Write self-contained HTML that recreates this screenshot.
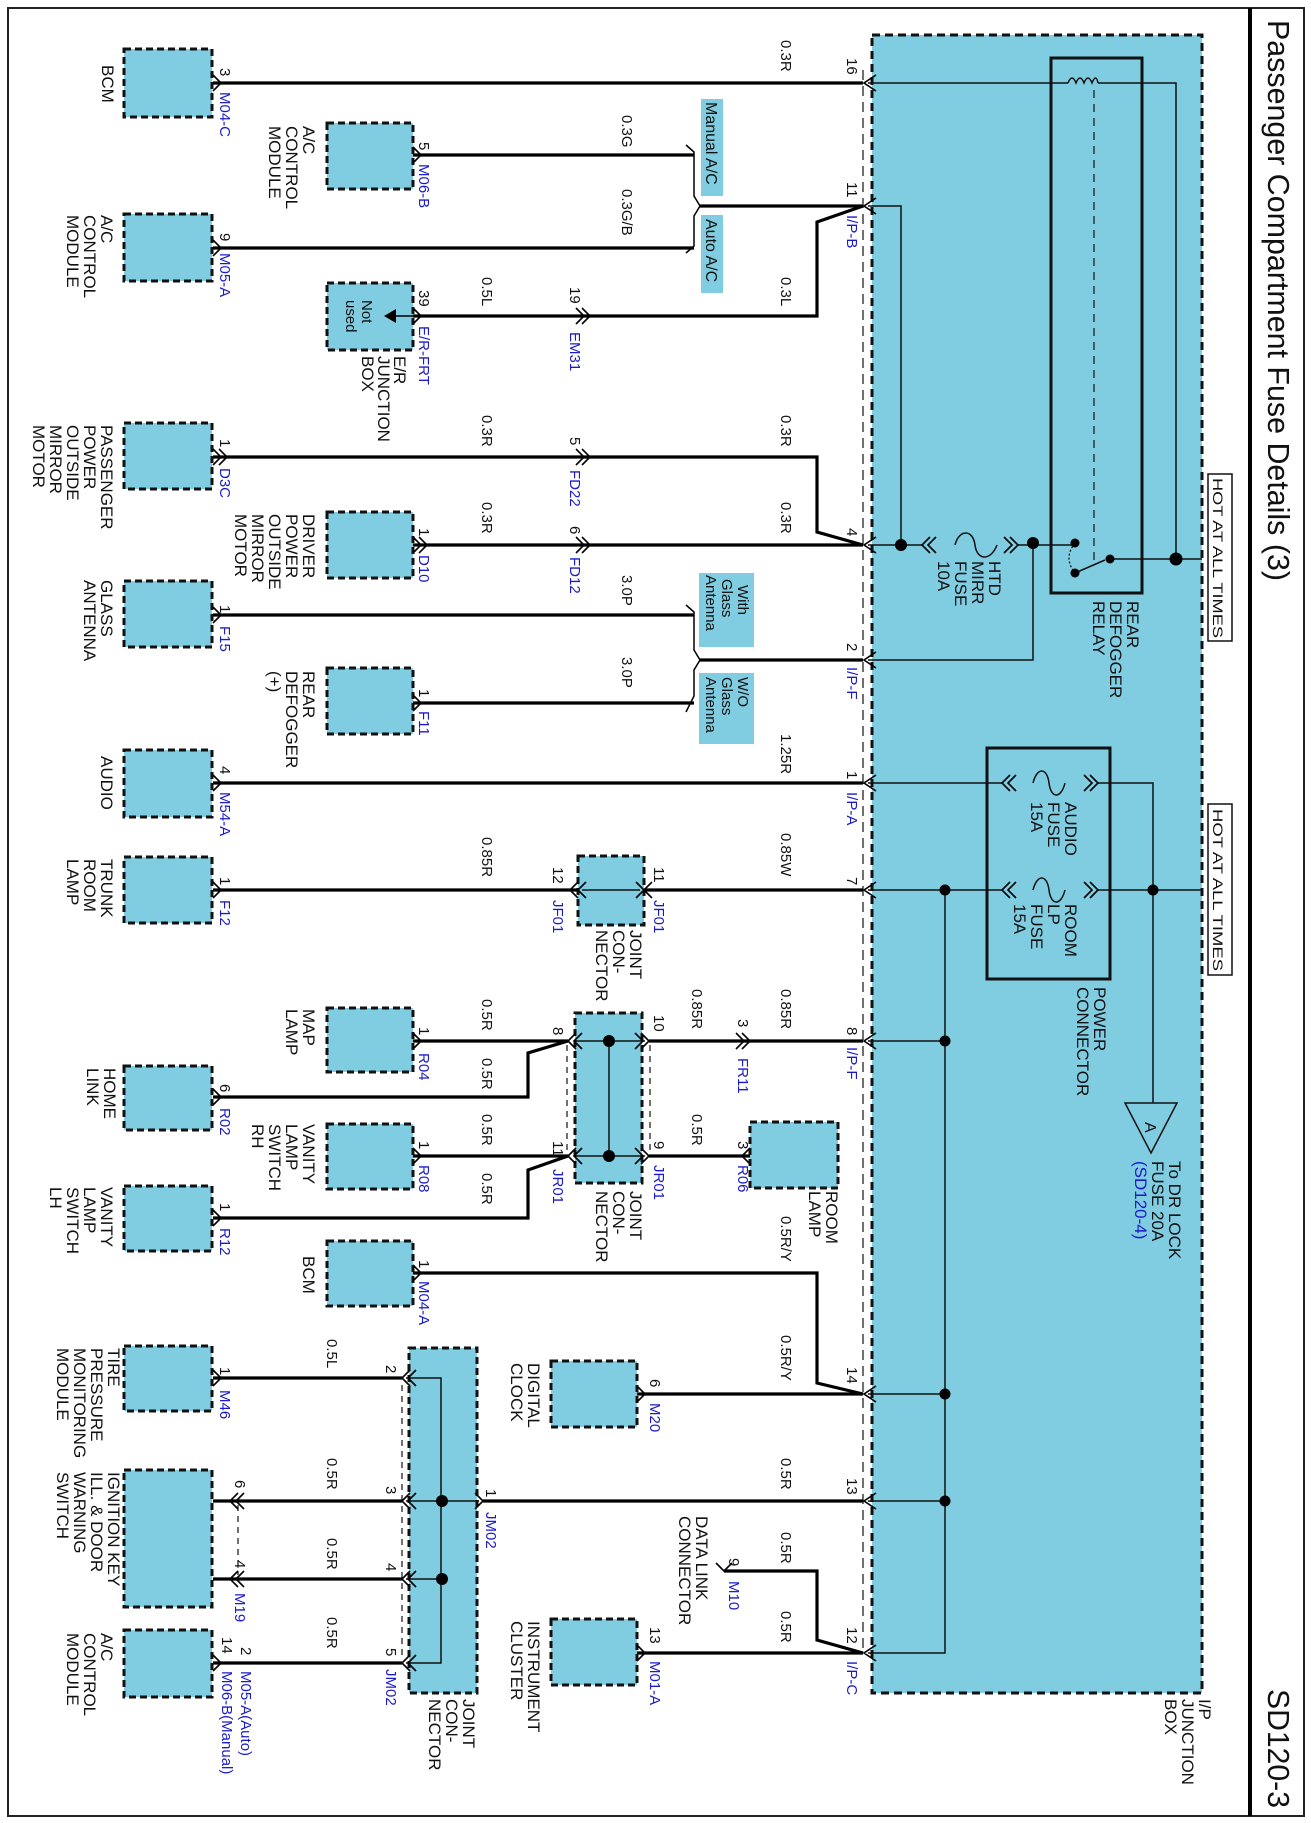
<!DOCTYPE html>
<html><head><meta charset="utf-8"><style>
html,body{margin:0;padding:0;background:#fff}
svg{display:block}
text{font-family:"Liberation Sans",Arial,sans-serif;fill:#111}
.l text{font-size:17px}
.w text{font-size:15px}
.b text{font-size:15px;fill:#1a1acc}
</style></head><body>
<svg width="1311" height="1823" viewBox="0 0 1311 1823" xmlns="http://www.w3.org/2000/svg">
<rect x="0" y="0" width="1311" height="1823" fill="#fff"/>
<rect x="8" y="8" width="1296" height="1808" fill="none" stroke="#222" stroke-width="2"/>
<line x1="1250" y1="8" x2="1250" y2="1816" stroke="#000" stroke-width="4"/>

<rect x="872" y="35" width="330" height="1658" fill="#80cde1" stroke="#111" stroke-width="3" stroke-dasharray="8,5"/>
<line x1="863" y1="70" x2="863" y2="1650" stroke="#222" stroke-width="1.3" stroke-dasharray="10,6"/>

<g fill="#80cde1" stroke="#111" stroke-width="3" stroke-dasharray="7,4">
<rect x="124" y="49" width="88" height="68"/>
<rect x="327" y="123" width="86" height="66"/>
<rect x="124" y="214" width="88" height="67"/>
<rect x="327" y="283" width="86" height="67"/>
<rect x="124" y="423" width="88" height="66"/>
<rect x="327" y="512" width="86" height="66"/>
<rect x="124" y="581" width="88" height="66"/>
<rect x="327" y="668" width="86" height="66"/>
<rect x="124" y="750" width="88" height="67"/>
<rect x="124" y="857" width="88" height="66"/>
<rect x="578" y="856" width="66" height="69"/>
<rect x="327" y="1008" width="86" height="64"/>
<rect x="124" y="1066" width="88" height="64"/>
<rect x="575" y="1013" width="67" height="170"/>
<rect x="327" y="1124" width="86" height="65"/>
<rect x="750" y="1122" width="88" height="66"/>
<rect x="124" y="1186" width="88" height="65"/>
<rect x="327" y="1241" width="86" height="65"/>
<rect x="124" y="1346" width="88" height="65"/>
<rect x="409" y="1348" width="68" height="345"/>
<rect x="551" y="1361" width="86" height="66"/>
<rect x="124" y="1470" width="88" height="137"/>
<rect x="551" y="1619" width="86" height="66"/>
<rect x="124" y="1630" width="88" height="67"/>
</g>

<g fill="#80cde1">
<rect x="701" y="99" width="22" height="97"/>
<rect x="701" y="215" width="22" height="78"/>
<rect x="699" y="573" width="55" height="74"/>
<rect x="699" y="673" width="55" height="71"/>
</g>

<rect x="1051" y="58" width="91" height="535" fill="none" stroke="#111" stroke-width="3"/>
<rect x="987" y="748" width="123" height="231" fill="none" stroke="#111" stroke-width="3"/>
<rect x="1208" y="474" width="24" height="167" fill="#fff" stroke="#111" stroke-width="1.5"/>
<rect x="1208" y="804" width="24" height="171" fill="#fff" stroke="#111" stroke-width="1.5"/>

<g fill="none" stroke="#000" stroke-width="3.2" stroke-linejoin="miter">
<path d="M213,83H863"/>
<path d="M413,155H694"/>
<path d="M700,206H863"/>
<path d="M213,248H694"/>
<path d="M413,316H817V222L863,206"/>
<path d="M213,457H817V532L863,545"/>
<path d="M413,545H863"/>
<path d="M213,615H694"/>
<path d="M700,660H863"/>
<path d="M413,703H694"/>
<path d="M213,783H863"/>
<path d="M213,890H578M644,890H863"/>
<path d="M413,1041H568M649,1041H863"/>
<path d="M213,1097H528V1053L568,1041"/>
<path d="M413,1156H568M649,1156H750"/>
<path d="M213,1218H528V1170L568,1156"/>
<path d="M413,1273H817V1383L863,1394"/>
<path d="M637,1394H863"/>
<path d="M213,1378H402"/>
<path d="M213,1501H402M483,1501H863"/>
<path d="M213,1579H402"/>
<path d="M213,1663H402"/>
<path d="M724,1571H817V1640L863,1653"/>
<path d="M637,1653H863"/>
</g>

<g fill="none" stroke="#000" stroke-width="1.5">
<path d="M686,145L694,152V196L700,206L694,216V246L686,253"/>
<path d="M686,605L694,612V650L700,660L694,670V696L686,712"/>
</g>

<g fill="none" stroke="#111" stroke-width="1.5">
<path d="M868,83H1068"/>
<path d="M1098,83H1176V559"/>
<path d="M868,206H901V545"/>
<path d="M868,545H922"/>
<path d="M1018,545H1075"/>
<path d="M1033,545V660H868"/>
<path d="M1110,559H1202"/>
<path d="M1075,573L1105,560"/>
<path d="M868,783H1002M1098,783H1153V1103"/>
<path d="M868,890H1002M1098,890H1202"/>
<path d="M945,890V1653H868"/>
<path d="M868,1041H945M868,1394H945M868,1501H945"/>
<path d="M582,890H640"/>
<path d="M574,1041H645M574,1156H645M609,1041V1156"/>
<path d="M406,1378H441V1663H406M406,1501H479M406,1579H441"/>
<path d="M1125,1103H1177L1151,1153Z"/>
<path d="M1068,83q4,-10 8,0q4,-10 8,0q4,-10 8,0q4,-10 6,0"/>
<path d="M955,545c4,-16 18,-16 20,0s16,16 22,0"/>
<path d="M1033,783c4,-16 14,-16 16,0s12,16 16,0"/>
<path d="M1033,890c4,-16 14,-16 16,0s12,16 16,0"/>
</g>
<line x1="1094" y1="90" x2="1094" y2="560" stroke="#111" stroke-width="1.2" stroke-dasharray="8,6"/>
<path d="M1075,543q-12,15 0,30" fill="none" stroke="#111" stroke-width="1.3" stroke-dasharray="2,2"/>
<g stroke="#111" stroke-width="1.2" stroke-dasharray="6,5" fill="none">
<path d="M567,1045V1152M650,1045V1152M402,1385V1658M238,1505V1575"/>
</g>

<g fill="none" stroke="#000" stroke-width="1.6">
<path d="M876,75L864,83L876,91M876,198L864,206L876,214M876,537L864,545L876,553M876,652L864,660L876,668M876,775L864,783L876,791M876,882L864,890L876,898M876,1033L864,1041L876,1049M876,1386L864,1394L876,1402M876,1493L864,1501L876,1509M876,1645L864,1653L876,1661"/>
<path d="M213,75L221,83L213,91M413,147L421,155L413,163M213,240L221,248L213,256M413,308L421,316L413,324M413,695L421,703L413,711M213,607L221,615L213,623M213,775L221,783L213,791M213,882L221,890L213,898M413,1033L421,1041L413,1049M213,1089L221,1097L213,1105M413,1148L421,1156L413,1164M213,1210L221,1218L213,1226M413,1265L421,1273L413,1281M213,1370L221,1378L213,1386M637,1386L645,1394L637,1402M637,1645L645,1653L637,1661M213,1655L221,1663L213,1671M750,1148L742,1156L750,1164M716,1563L724,1571L732,1563"/>
<path d="M576,308L584,316L576,324M582,308L590,316L582,324M576,449L584,457L576,465M582,449L590,457L582,465M576,537L584,545L576,553M582,537L590,545L582,553M736,1033L744,1041L736,1049M742,1033L750,1041L742,1049"/>
<path d="M213,449L221,457L213,465M219,449L227,457L219,465M413,537L421,545L413,553M419,537L427,545L419,553"/>
<path d="M238,1493L230,1501L238,1509M244,1493L236,1501L244,1509M238,1571L230,1579L238,1587M244,1571L236,1579L244,1587"/>
<path d="M586,882L578,890L586,898M636,882L644,890L636,898M578,882L570,890L578,898M652,882L644,890L652,898"/>
<path d="M576,1033L568,1041L576,1049M582,1033L574,1041L582,1049M641,1033L649,1041L641,1049M635,1033L643,1041L635,1049M576,1148L568,1156L576,1164M582,1148L574,1156L582,1164M641,1148L649,1156L641,1164M635,1148L643,1156L635,1164"/>
<path d="M410,1370L402,1378L410,1386M416,1370L408,1378L416,1386M410,1493L402,1501L410,1509M416,1493L408,1501L416,1509M410,1571L402,1579L410,1587M416,1571L408,1579L416,1587M410,1655L402,1663L410,1671M416,1655L408,1663L416,1671M475,1493L483,1501L475,1509"/>
<path d="M930,537L922,545L930,553M936,537L928,545L936,553M1004,537L1012,545L1004,553M1010,537L1018,545L1010,553"/>
<path d="M1010,775L1002,783L1010,791M1016,775L1008,783L1016,791M1084,775L1092,783L1084,791M1090,775L1098,783L1090,791"/>
<path d="M1010,882L1002,890L1010,898M1016,882L1008,890L1016,898M1084,882L1092,890L1084,898M1090,882L1098,890L1090,898"/>
</g>
<path d="M384,316L396,309V323Z" fill="#000"/>
<line x1="396" y1="316" x2="413" y2="316" stroke="#000" stroke-width="1.5"/>

<g fill="#000">
<circle cx="901" cy="545" r="6"/><circle cx="1033" cy="543" r="6"/>
<circle cx="1075" cy="543" r="4.5"/><circle cx="1075" cy="573" r="4.5"/><circle cx="1110" cy="559" r="4.5"/>
<circle cx="1176" cy="559" r="6.5"/>
<circle cx="945" cy="890" r="5.5"/><circle cx="1153" cy="890" r="5.5"/>
<circle cx="945" cy="1041" r="5.5"/><circle cx="945" cy="1394" r="5.5"/><circle cx="945" cy="1501" r="5.5"/>
<circle cx="609" cy="1041" r="6"/><circle cx="609" cy="1156" r="6"/>
<circle cx="442" cy="1501" r="6"/><circle cx="442" cy="1579" r="6"/>
</g>

<g transform="rotate(90)">
<text x="20" y="-1268" style="font-size:31px" textLength="561" lengthAdjust="spacingAndGlyphs">Passenger Compartment Fuse Details (3)</text>
<text x="1689" y="-1268" style="font-size:31px" textLength="119" lengthAdjust="spacingAndGlyphs">SD120-3</text>

<g class="l">
<text x="65" y="-102">BCM</text>
<text x="126" y="-303"><tspan>A/C</tspan><tspan x="126" dy="17">CONTROL</tspan><tspan x="126" dy="17">MODULE</tspan></text>
<text x="215" y="-101"><tspan>A/C</tspan><tspan x="215" dy="17">CONTROL</tspan><tspan x="215" dy="17">MODULE</tspan></text>
<text x="356" y="-394"><tspan>E/R</tspan><tspan x="356" dy="16">JUNCTION</tspan><tspan x="356" dy="16">BOX</tspan></text>
<text x="425" y="-101"><tspan>PASSENGER</tspan><tspan x="425" dy="17">POWER</tspan><tspan x="425" dy="17">OUTSIDE</tspan><tspan x="425" dy="17">MIRROR</tspan><tspan x="425" dy="17">MOTOR</tspan></text>
<text x="514" y="-303"><tspan>DRIVER</tspan><tspan x="514" dy="17">POWER</tspan><tspan x="514" dy="17">OUTSIDE</tspan><tspan x="514" dy="17">MIRROR</tspan><tspan x="514" dy="17">MOTOR</tspan></text>
<text x="580" y="-101"><tspan>GLASS</tspan><tspan x="580" dy="17">ANTENNA</tspan></text>
<text x="671" y="-303"><tspan>REAR</tspan><tspan x="671" dy="17">DEFOGGER</tspan><tspan x="671" dy="17">(+)</tspan></text>
<text x="756" y="-101">AUDIO</text>
<text x="859" y="-101"><tspan>TRUNK</tspan><tspan x="859" dy="17">ROOM</tspan><tspan x="859" dy="17">LAMP</tspan></text>
<text x="930" y="-630"><tspan>JOINT</tspan><tspan x="930" dy="17">CON-</tspan><tspan x="930" dy="17">NECTOR</tspan></text>
<text x="1009" y="-303"><tspan>MAP</tspan><tspan x="1009" dy="17">LAMP</tspan></text>
<text x="1068" y="-104"><tspan>HOME</tspan><tspan x="1068" dy="17">LINK</tspan></text>
<text x="1124" y="-303"><tspan>VANITY</tspan><tspan x="1124" dy="17">LAMP</tspan><tspan x="1124" dy="17">SWITCH</tspan><tspan x="1124" dy="17">RH</tspan></text>
<text x="1191" y="-630"><tspan>JOINT</tspan><tspan x="1191" dy="17">CON-</tspan><tspan x="1191" dy="17">NECTOR</tspan></text>
<text x="1191" y="-826"><tspan>ROOM</tspan><tspan x="1191" dy="17">LAMP</tspan></text>
<text x="1187" y="-101"><tspan>VANITY</tspan><tspan x="1187" dy="17">LAMP</tspan><tspan x="1187" dy="17">SWITCH</tspan><tspan x="1187" dy="17">LH</tspan></text>
<text x="1256" y="-303">BCM</text>
<text x="1348" y="-108"><tspan>TIRE</tspan><tspan x="1348" dy="17">PRESSURE</tspan><tspan x="1348" dy="17">MONITORING</tspan><tspan x="1348" dy="17">MODULE</tspan></text>
<text x="1363" y="-528"><tspan>DIGITAL</tspan><tspan x="1363" dy="17">CLOCK</tspan></text>
<text x="1472" y="-108"><tspan>IGNITION KEY</tspan><tspan x="1472" dy="17">ILL. &amp; DOOR</tspan><tspan x="1472" dy="17">WARNING</tspan><tspan x="1472" dy="17">SWITCH</tspan></text>
<text x="1516" y="-696"><tspan>DATA LINK</tspan><tspan x="1516" dy="17">CONNECTOR</tspan></text>
<text x="1621" y="-528"><tspan>INSTRUMENT</tspan><tspan x="1621" dy="17">CLUSTER</tspan></text>
<text x="1633" y="-101"><tspan>A/C</tspan><tspan x="1633" dy="17">CONTROL</tspan><tspan x="1633" dy="17">MODULE</tspan></text>
<text x="1699" y="-463"><tspan>JOINT</tspan><tspan x="1699" dy="17">CON-</tspan><tspan x="1699" dy="17">NECTOR</tspan></text>
<text x="1699" y="-1199"><tspan>I/P</tspan><tspan x="1699" dy="17">JUNCTION</tspan><tspan x="1699" dy="17">BOX</tspan></text>
<text x="561" y="-989"><tspan>HTD</tspan><tspan x="561" dy="17">MIRR</tspan><tspan x="561" dy="17">FUSE</tspan><tspan x="561" dy="17">10A</tspan></text>
<text x="601" y="-1127"><tspan>REAR</tspan><tspan x="601" dy="17">DEFOGGER</tspan><tspan x="601" dy="17">RELAY</tspan></text>
<text x="802" y="-1065"><tspan>AUDIO</tspan><tspan x="802" dy="17">FUSE</tspan><tspan x="802" dy="17">15A</tspan></text>
<text x="904" y="-1065"><tspan>ROOM</tspan><tspan x="904" dy="17">LP</tspan><tspan x="904" dy="17">FUSE</tspan><tspan x="904" dy="17">15A</tspan></text>
<text x="987" y="-1094"><tspan>POWER</tspan><tspan x="987" dy="17">CONNECTOR</tspan></text>
<text x="1161" y="-1169"><tspan>To DR LOCK</tspan><tspan x="1161" dy="17">FUSE 20A</tspan><tspan x="1161" dy="17" style="fill:#1a1acc">(SD120-4)</tspan></text>
<text x="300" y="-362" style="font-size:15px"><tspan>Not</tspan><tspan x="300" dy="16">used</tspan></text>
<text x="102" y="-706" style="font-size:16px">Manual A/C</text>
<text x="219" y="-706" style="font-size:16px">Auto A/C</text>
<text x="585" y="-738" style="font-size:15px"><tspan>With</tspan><tspan x="579" dy="16">Glass</tspan><tspan x="575" dy="16">Antenna</tspan></text>
<text x="677" y="-738" style="font-size:15px"><tspan>W/O</tspan><tspan x="677" dy="16">Glass</tspan><tspan x="677" dy="16">Antenna</tspan></text>
<text x="478" y="-1213" style="font-size:14px" textLength="160" lengthAdjust="spacingAndGlyphs">HOT AT ALL TIMES</text>
<text x="809" y="-1213" style="font-size:14px" textLength="162" lengthAdjust="spacingAndGlyphs">HOT AT ALL TIMES</text>
<text x="1122" y="-1145" style="font-size:16px">A</text>
</g>

<g class="w">
<text x="40" y="-781">0.3R</text><text x="58" y="-847">16</text><text x="68" y="-220">3</text>
<text x="115" y="-622">0.3G</text><text x="142" y="-419">5</text><text x="182" y="-847">11</text>
<text x="189" y="-622">0.3G/B</text><text x="233" y="-220">9</text>
<text x="277" y="-482">0.5L</text><text x="287" y="-570">19</text><text x="277" y="-781">0.3L</text><text x="290" y="-419">39</text>
<text x="415" y="-482">0.3R</text><text x="437" y="-570">5</text><text x="415" y="-781">0.3R</text><text x="439" y="-220">1</text>
<text x="502" y="-482">0.3R</text><text x="526" y="-570">6</text><text x="502" y="-781">0.3R</text><text x="528" y="-847">4</text><text x="528" y="-419">1</text>
<text x="575" y="-622">3.0P</text><text x="605" y="-220">1</text><text x="643" y="-847">2</text>
<text x="657" y="-622">3.0P</text><text x="689" y="-419">1</text>
<text x="734" y="-781">1.25R</text><text x="766" y="-220">4</text><text x="771" y="-847">1</text>
<text x="837" y="-482">0.85R</text><text x="867" y="-553">12</text><text x="867" y="-654">11</text><text x="833" y="-781">0.85W</text><text x="877" y="-847">7</text><text x="877" y="-220">1</text>
<text x="999" y="-482">0.5R</text><text x="1027" y="-419">1</text><text x="1027" y="-553">8</text><text x="1015" y="-654">10</text>
<text x="989" y="-692">0.85R</text><text x="1019" y="-738">3</text><text x="989" y="-781">0.85R</text><text x="1027" y="-847">8</text>
<text x="1058" y="-482">0.5R</text><text x="1084" y="-220">6</text>
<text x="1114" y="-482">0.5R</text><text x="1141" y="-419">1</text><text x="1141" y="-553">11</text><text x="1141" y="-654">9</text>
<text x="1114" y="-692">0.5R</text><text x="1141" y="-738">3</text>
<text x="1173" y="-482">0.5R</text><text x="1203" y="-220">1</text>
<text x="1216" y="-781">0.5R/Y</text><text x="1260" y="-419">1</text>
<text x="1335" y="-781">0.5R/Y</text><text x="1367" y="-847">14</text>
<text x="1339" y="-327">0.5L</text><text x="1365" y="-386">2</text><text x="1367" y="-220">1</text><text x="1379" y="-650">6</text>
<text x="1458" y="-327">0.5R</text><text x="1458" y="-781">0.5R</text><text x="1478" y="-847">13</text>
<text x="1480" y="-235">6</text><text x="1486" y="-386">3</text><text x="1489" y="-486">1</text>
<text x="1538" y="-327">0.5R</text><text x="1560" y="-235">4</text><text x="1563" y="-386">4</text>
<text x="1532" y="-781">0.5R</text><text x="1558" y="-729">9</text>
<text x="1611" y="-781">0.5R</text><text x="1627" y="-847">12</text><text x="1627" y="-650">13</text>
<text x="1617" y="-327">0.5R</text><text x="1648" y="-386">5</text>
<text x="1647" y="-241">2</text><text x="1637" y="-222">14</text>
</g>

<g class="b">
<text x="92" y="-220">M04-C</text>
<text x="164" y="-419">M06-B</text>
<text x="215" y="-847">I/P-B</text>
<text x="253" y="-220">M05-A</text>
<text x="332" y="-570">EM31</text>
<text x="326" y="-419">E/R-FRT</text>
<text x="468" y="-220">D3C</text>
<text x="470" y="-570">FD22</text>
<text x="555" y="-419">D10</text>
<text x="557" y="-570">FD12</text>
<text x="626" y="-220">F15</text>
<text x="667" y="-847">I/P-F</text>
<text x="711" y="-419">F11</text>
<text x="792" y="-220">M54-A</text>
<text x="792" y="-847">I/P-A</text>
<text x="900" y="-220">F12</text>
<text x="900" y="-553">JF01</text>
<text x="900" y="-654">JF01</text>
<text x="1053" y="-419">R04</text>
<text x="1058" y="-738">FR11</text>
<text x="1047" y="-847">I/P-F</text>
<text x="1108" y="-220">R02</text>
<text x="1165" y="-419">R08</text>
<text x="1169" y="-553">JR01</text>
<text x="1165" y="-654">JR01</text>
<text x="1165" y="-738">R06</text>
<text x="1228" y="-220">R12</text>
<text x="1281" y="-419">M04-A</text>
<text x="1390" y="-220">M46</text>
<text x="1403" y="-650">M20</text>
<text x="1512" y="-486">JM02</text>
<text x="1593" y="-235">M19</text>
<text x="1581" y="-729">M10</text>
<text x="1661" y="-847">I/P-C</text>
<text x="1661" y="-650">M01-A</text>
<text x="1669" y="-386">JM02</text>
<text x="1671" y="-241">M05-A(Auto)</text>
<text x="1671" y="-222">M06-B(Manual)</text>
</g>
</g>
</svg>
</body></html>
